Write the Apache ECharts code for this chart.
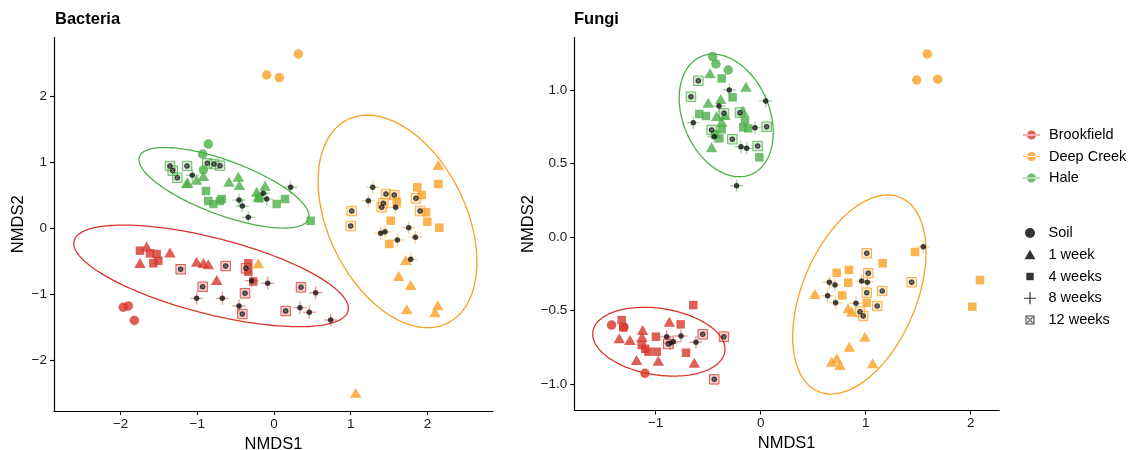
<!DOCTYPE html>
<html><head><meta charset="utf-8">
<script src="https://cdn.jsdelivr.net/npm/echarts@6/dist/echarts.min.js"></script>
<style>html,body{margin:0;padding:0;background:#fff}#c{width:1131px;height:450px}</style>
</head><body><div id="c"></div>
<script>
// ---------- categories ----------
const sites = ['Brookfield', 'Deep Creek', 'Hale'];
const times = ['Soil', '1 week', '4 weeks', '8 weeks', '12 weeks'];
const panelTitles = ['Bacteria', 'Fungi'];
const bacXTicks = [-2, -1, 0, 1, 2];
const bacYTicks = [-2, -1, 0, 1, 2];
const funXTicks = [-1, 0, 1, 2];
const funYTicks = [-1, -0.5, 0, 0.5, 1];

// ---------- Bacteria: Brookfield ----------
const bacBrookfieldSoil = [[-1.965,-1.19],[-1.9,-1.17],[-1.82,-1.39]];
const bacBrookfield1w = [[-1.66,-0.27],[-1.747,-0.52],[-1.356,-0.36],[-1.008,-0.5],[-0.92,-0.52],[-0.857,-0.54],[-0.747,-0.777]];
const bacBrookfield4w = [[-1.747,-0.333],[-1.617,-0.373],[-1.53,-0.383],[-1.573,-0.524],[-1.508,-0.485],[-0.335,-0.524],[-0.335,-0.65],[-0.27,-0.80]];
const bacBrookfield8w = [[-1.008,-1.055],[-0.674,-1.055],[-0.456,-1.171],[-0.082,-0.827],[-0.291,-0.788],[0.339,-1.196],[0.46,-1.267],[0.543,-0.97],[0.739,-1.383]];
const bacBrookfield12w = [[-1.217,-0.615],[-0.63,-0.565],[-0.93,-0.879],[-0.378,-0.979],[-0.413,-1.292],[-0.365,-0.6],[0.152,-1.247],[0.352,-0.888]];
// ---------- Bacteria: Deep Creek ----------
const bacDeepSoil = [[-0.095,2.329],[0.069,2.288],[0.317,2.647]];
const bacDeep1w = [[2.142,0.965],[1.717,-0.474],[1.626,-0.717],[1.782,-0.853],[1.73,-1.221],[2.134,-1.161],[2.099,-1.267],[1.065,-2.485],[-0.205,-0.524]];
const bacDeep4w = [[1.868,0.627],[2.142,0.677],[1.925,0.51],[1.6,0.41],[1.982,0.248],[1.521,0.121],[1.999,0.106],[2.155,0.015],[1.503,-0.232]];
const bacDeep8w = [[1.287,0.627],[1.23,0.424],[1.586,0.324],[1.391,-0.07],[1.447,-0.045],[1.608,-0.171],[1.756,0.015],[1.843,-0.13],[1.782,-0.464]];
const bacDeep12w = [[1.46,0.526],[1.568,0.51],[1.425,0.385],[1.404,0.324],[1.013,0.268],[1.0,0.041],[1.851,0.46],[1.904,0.268]];
// ---------- Bacteria: Hale ----------
const bacHaleSoil = [[-0.857,1.283],[-0.93,1.13],[-0.92,0.89]];
const bacHale1w = [[-0.465,0.788],[-0.587,0.712],[-0.452,0.662],[-1.14,0.688],[-1.125,0.697],[-0.92,0.80],[-1.01,0.74],[-0.117,0.65],[-0.226,0.56],[-0.204,0.485]];
const bacHale4w = [[-0.887,0.571],[-0.857,0.42],[-0.79,0.374],[-0.682,0.45],[-0.704,0.42],[-0.196,0.46],[0.035,0.374],[0.143,0.45],[0.478,0.12]];
const bacHale8w = [[-0.456,0.435],[-0.413,0.344],[-0.335,0.173],[-0.095,0.45],[0.217,0.627],[-0.14,0.536],[-1.065,0.81]];
const bacHale12w = [[-1.356,0.95],[-1.32,0.88],[-1.26,0.773],[-1.134,0.95],[-0.87,0.99],[-0.782,0.98],[-0.704,0.955]];

// ---------- Fungi: Brookfield ----------
const funBrookfieldSoil = [[-1.42,-0.599],[-1.302,-0.614],[-1.102,-0.927]];
const funBrookfield1w = [[-1.347,-0.689],[-1.245,-0.70],[-1.124,-0.633],[-1.13,-0.68],[-0.87,-0.576],[-1.182,-0.837],[-0.975,-0.841],[-0.632,-0.855]];
const funBrookfield4w = [[-1.324,-0.565],[-1.309,-0.614],[-0.997,-0.678],[-0.762,-0.594],[-0.642,-0.463],[-0.711,-0.787],[-1.07,-0.78],[-0.99,-0.78],[-1.133,-0.735],[-1.1,-0.76]];
const funBrookfield8w = [[-0.895,-0.678],[-0.832,-0.712],[-0.759,-0.673],[-0.616,-0.716],[-0.864,-0.723]];
const funBrookfield12w = [[-0.88,-0.728],[-0.552,-0.662],[-0.35,-0.678],[-0.442,-0.968]];
// ---------- Fungi: Deep Creek ----------
const funDeepSoil = [[1.587,1.245],[1.486,1.068],[1.686,1.073]];
const funDeep1w = [[0.517,-0.388],[0.834,-0.485],[0.867,-0.508],[0.993,-0.678],[0.844,-0.746],[0.676,-0.848],[0.724,-0.825],[0.755,-0.871],[1.067,-0.859]];
const funDeep4w = [[0.724,-0.243],[0.841,-0.224],[0.834,-0.311],[1.162,-0.179],[1.47,-0.102],[0.777,-0.397],[1.01,-0.447],[2.089,-0.293],[2.015,-0.474]];
const funDeep8w = [[0.654,-0.308],[0.708,-0.327],[0.962,-0.3],[1.016,-0.308],[0.638,-0.399],[0.714,-0.447],[0.908,-0.451],[1.549,-0.066]];
const funDeep12w = [[1.01,-0.111],[1.025,-0.247],[1.01,-0.379],[1.158,-0.367],[1.11,-0.469],[0.946,-0.508],[0.977,-0.537],[1.438,-0.308]];
// ---------- Fungi: Hale ----------
const funHaleSoil = [[-0.457,1.227],[-0.426,1.177],[-0.309,1.136]];
const funHale1w = [[-0.483,1.113],[-0.14,1.022],[-0.499,0.914],[-0.381,0.939],[-0.419,0.823],[-0.34,0.83],[-0.171,0.859],[-0.467,0.61],[-0.371,0.784]];
const funHale4w = [[-0.371,1.079],[-0.267,0.95],[-0.585,0.837],[-0.521,0.823],[-0.435,0.699],[-0.371,0.733],[-0.166,0.746],[-0.118,0.739],[-0.15,0.796],[-0.013,0.542],[-0.394,0.671]];
const funHale8w = [[-0.299,1.0],[0.048,0.925],[-0.397,0.891],[-0.642,0.778],[-0.054,0.744],[-0.188,0.614],[-0.133,0.603],[-0.442,0.682],[-0.229,0.349]];
const funHale12w = [[-0.594,1.063],[-0.664,0.954],[-0.35,0.841],[-0.197,0.846],[-0.467,0.728],[-0.27,0.665],[-0.029,0.619],[0.057,0.75]];

// ---------- 95% ellipses: [cx, cy, halfWidthX, halfHeightY, rho] ----------
const bacEllipseBrookfield = [-0.82, -0.715, 1.79, 0.77, -0.638];
const bacEllipseDeep = [1.61, 0.11, 1.035, 1.61, -0.38];
const bacEllipseHale = [-0.652, 0.62, 1.108, 0.61, -0.70];
const funEllipseBrookfield = [-0.97, -0.712, 0.63, 0.234, -0.22];
const funEllipseDeep = [0.94, -0.391, 0.635, 0.677, 0.425];
const funEllipseHale = [-0.328, 0.827, 0.448, 0.417, -0.28];

// ---------- assembly ----------
const panelData = [
  [[bacBrookfieldSoil, bacBrookfield1w, bacBrookfield4w, bacBrookfield8w, bacBrookfield12w],
   [bacDeepSoil, bacDeep1w, bacDeep4w, bacDeep8w, bacDeep12w],
   [bacHaleSoil, bacHale1w, bacHale4w, bacHale8w, bacHale12w]],
  [[funBrookfieldSoil, funBrookfield1w, funBrookfield4w, funBrookfield8w, funBrookfield12w],
   [funDeepSoil, funDeep1w, funDeep4w, funDeep8w, funDeep12w],
   [funHaleSoil, funHale1w, funHale4w, funHale8w, funHale12w]]
];
const panelEllipses = [
  [bacEllipseBrookfield, bacEllipseDeep, bacEllipseHale],
  [funEllipseBrookfield, funEllipseDeep, funEllipseHale]
];

const FONT = '"Liberation Sans", Arial, Helvetica, sans-serif';
const siteColors = ['#D7372C', '#F9A024', '#4DAF4A'];
function rgba(hex, a) {
  const n = parseInt(hex.slice(1), 16);
  return 'rgba(' + (n >> 16 & 255) + ',' + (n >> 8 & 255) + ',' + (n & 255) + ',' + a + ')';
}
const PLUS = 'path://M5.35,0H6.65V5.35H12V6.65H6.65V12H5.35V6.65H0V5.35H5.35Z';
const WHITEX = 'path://M0,0.8L0.8,0L5,4.2L9.2,0L10,0.8L5.8,5L10,9.2L9.2,10L5,5.8L0.8,10L0,9.2L4.2,5Z';

const series = [];
for (let p = 0; p < 2; p++) {
  for (let s = 0; s < 3; s++) {
    const c = siteColors[s];
    const e = panelEllipses[p][s];
    series.push({
      type: 'custom', xAxisIndex: p, yAxisIndex: p, silent: true, z: 2,
      data: [e],
      renderItem: function (params, api) {
        const cx = api.value(0), cy = api.value(1), A = api.value(2), B = api.value(3), r = api.value(4);
        const d = Math.acos(r);
        const pts = [];
        for (let i = 0; i <= 160; i++) {
          const t = i / 160 * 2 * Math.PI;
          pts.push(api.coord([cx + A * Math.cos(t), cy + B * Math.cos(t - d)]));
        }
        return { type: 'polyline', shape: { points: pts }, style: { fill: 'none', stroke: c, lineWidth: 1.3 } };
      }
    });
  }
  for (let s = 0; s < 3; s++) {
    const c = siteColors[s];
    const g = panelData[p][s];
    const base = { type: 'scatter', xAxisIndex: p, yAxisIndex: p, silent: true, name: sites[s], z: 3 };
    series.push(Object.assign({}, base, { data: g[0], symbol: 'circle', symbolSize: 9.5, itemStyle: { color: c } }));
    series.push(Object.assign({}, base, { data: g[1], symbol: 'triangle', symbolSize: [11.5, 10], itemStyle: { color: c } }));
    series.push(Object.assign({}, base, { data: g[2], symbol: 'rect', symbolSize: 8.5, itemStyle: { color: c } }));
    series.push(Object.assign({}, base, { data: g[3], symbol: PLUS, symbolSize: 13, itemStyle: { color: rgba(c, 0.6) } }));
    series.push(Object.assign({}, base, { name: 'dot8', data: g[3], symbol: 'circle', symbolSize: 5.5, itemStyle: { color: '#111' }, z: 4 }));
    series.push(Object.assign({}, base, { data: g[4], symbol: 'rect', symbolSize: 9.5, itemStyle: { color: rgba(c, 0.3), borderColor: c, borderWidth: 1 } }));
    series.push(Object.assign({}, base, { name: 'dot12', data: g[4], symbol: 'circle', symbolSize: 5.5, itemStyle: { color: '#111' }, z: 4 }));
    series.push(Object.assign({}, base, { name: 'x12', data: g[4], symbol: WHITEX, symbolSize: 3.2, itemStyle: { color: 'rgba(255,255,255,0.8)' }, z: 5 }));
  }
}
// dummy series for the shape legend
times.forEach(t => series.push({ type: 'scatter', name: t, data: [], itemStyle: { color: '#000' } }));

const SITE_ICON = 'path://M0,4.4H18V5.6H0Z M4.2,5a4.8,4.8 0 1,0 9.6,0a4.8,4.8 0 1,0 -9.6,0Z';
const PAD = 'M0,0M12,12';
const TIME_ICONS = [
  'path://' + PAD + 'M1,6a5,5 0 1,0 10,0a5,5 0 1,0 -10,0Z',
  'path://' + PAD + 'M6,1L11.5,10.5H0.5Z',
  'path://' + PAD + 'M2.3,2.3H9.7V9.7H2.3Z',
  'path://' + PAD + 'M5.4,0H6.6V5.4H12V6.6H6.6V12H5.4V6.6H0V5.4H5.4Z',
  'path://' + PAD + 'M1.5,1.5H10.5V10.5H1.5Z M2.5,2.5V9.5H9.5V2.5Z M3,3.8L3.8,3L9,8.2L8.2,9Z M9,3.8L8.2,3L3,8.2L3.8,9Z'
];

function fmtInt(v) { return v < 0 ? '\u2212' + Math.abs(v) : String(v); }
function fmt1(v) { return v < 0 ? '\u2212' + Math.abs(v).toFixed(1) : v.toFixed(1); }

function xAxisCfg(idx, min, max, ticks) {
  return {
    gridIndex: idx, type: 'value', min: min, max: max,
    axisLine: { show: true, onZero: false, lineStyle: { color: '#000', width: 1.2 } },
    axisTick: { show: true, length: 4, customValues: ticks, lineStyle: { color: '#000', width: 1.1 } },
    axisLabel: { customValues: ticks, formatter: fmtInt, margin: 6, fontSize: 13.5, color: '#1a1a1a', fontFamily: FONT },
    splitLine: { show: false },
    name: 'NMDS1', nameLocation: 'middle', nameGap: 18,
    nameTextStyle: { fontSize: 16.5, color: '#000', fontFamily: FONT }
  };
}
function yAxisCfg(idx, min, max, ticks, f) {
  return {
    gridIndex: idx, type: 'value', min: min, max: max,
    axisLine: { show: true, onZero: false, lineStyle: { color: '#000', width: 1.2 } },
    axisTick: { show: true, length: 4, customValues: ticks, lineStyle: { color: '#000', width: 1.1 } },
    axisLabel: { customValues: ticks, formatter: f, margin: 7, fontSize: 13.5, color: '#1a1a1a', fontFamily: FONT },
    splitLine: { show: false },
    name: 'NMDS2', nameLocation: 'middle', nameGap: 27,
    nameTextStyle: { fontSize: 16.5, color: '#000', fontFamily: FONT }
  };
}

const option = {
  animation: false,
  backgroundColor: '#fff',
  title: [
    { text: panelTitles[0], left: 55, top: 11, padding: 0, textStyle: { fontFamily: FONT, fontSize: 16.5, fontWeight: 'bold', color: '#000' } },
    { text: panelTitles[1], left: 574, top: 11, padding: 0, textStyle: { fontFamily: FONT, fontSize: 16.5, fontWeight: 'bold', color: '#000' } }
  ],
  grid: [
    { left: 54, top: 37.5, width: 439, height: 373.5, outerBoundsMode: 'none', containLabel: false },
    { left: 574.3, top: 37.5, width: 424.7, height: 373, outerBoundsMode: 'none', containLabel: false }
  ],
  xAxis: [xAxisCfg(0, -2.868, 2.855, bacXTicks), xAxisCfg(1, -1.775, 2.27, funXTicks)],
  yAxis: [yAxisCfg(0, -2.762, 2.897, bacYTicks, fmtInt), yAxisCfg(1, -1.18, 1.357, funYTicks, fmt1)],
  legend: [
    { orient: 'vertical', left: 1023, top: 127, itemWidth: 17, itemHeight: 10, itemGap: 5.5, padding: 0,
      selectedMode: false, data: sites.map(s => ({ name: s, icon: SITE_ICON })),
      textStyle: { fontFamily: FONT, fontSize: 14.5, color: '#000', lineHeight: 16, padding: [0, 0, 0, 4] } },
    { orient: 'vertical', left: 1024, top: 225, itemWidth: 13, itemHeight: 12, itemGap: 5.75, padding: 0,
      selectedMode: false, data: times.map((t, i) => ({ name: t, icon: TIME_ICONS[i] })),
      textStyle: { fontFamily: FONT, fontSize: 14.5, color: '#000', lineHeight: 16, padding: [0, 0, 0, 7] } }
  ],
  series: series
};
const chart = echarts.init(document.getElementById('c'), null, { renderer: 'canvas' });
chart.setOption(option);
</script></body></html>
